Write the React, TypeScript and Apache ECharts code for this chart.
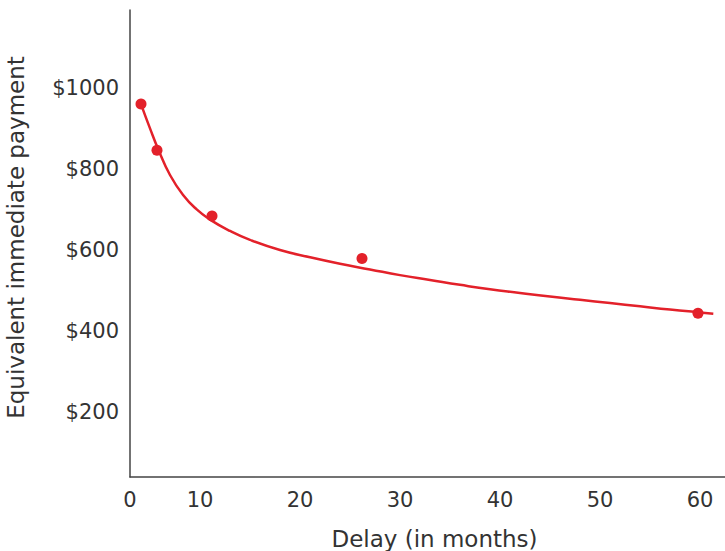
import React, { useEffect, useRef } from "react";
import * as echarts from "echarts";

// Observed data points (delay in months, equivalent immediate payment in $)
const pointDelays = [4.1, 5.7, 11.2, 26.2, 59.8];
const pointValues = [960, 846, 684, 579, 444];

// Fitted curve
const curveDelays = [4.1, 5.0, 5.83, 7.0, 8.33, 9.67, 11.0, 13.0, 15.0, 18.0, 21.0, 24.0, 27.0, 30.0, 33.0, 36.0, 39.0, 42.0, 45.0, 48.0, 51.0, 54.0, 57.0, 60.0, 61.33];
const curveValues = [960, 900, 848, 785, 735, 700, 675, 647, 625, 600, 582, 566, 552, 538, 526, 514, 503, 494, 485, 477, 469, 461, 453, 446, 443];

// Tick labels
const xTickValues = [3, 10, 20, 30, 40, 50, 60];
const xTickLabels = ["0", "10", "20", "30", "40", "50", "60"];
const yTickValues = [200, 400, 600, 800, 1000];

const RED = "#e3212a";
const TEXT = "#333333";
const FONT = "DejaVu Sans";

export default function App() {
  const ref = useRef<HTMLDivElement>(null);
  useEffect(() => {
    document.body.style.margin = "0";
    if (!ref.current) return;
    const chart = echarts.init(ref.current, null, { renderer: "svg" });
    chart.setOption({
      animation: false,
      backgroundColor: "#ffffff",
      grid: { left: 130, top: 10, right: 0, bottom: 74, containLabel: false, outerBoundsMode: "none" },
      xAxis: {
        type: "value",
        min: 3,
        max: 62.5,
        name: "Delay (in months)",
        nameLocation: "middle",
        nameGap: 50,
        nameTextStyle: { fontFamily: FONT, fontSize: 23, color: TEXT, padding: [0, 0, 0, 14] },
        axisLine: { show: true, lineStyle: { color: "#444", width: 1.5 } },
        axisTick: { show: false },
        splitLine: { show: false },
        axisLabel: {
          customValues: xTickValues,
          formatter: (v: number) => xTickLabels[xTickValues.indexOf(v)] ?? String(v),
          fontFamily: FONT,
          fontSize: 21,
          color: TEXT,
          margin: 12,
        },
      },
      yAxis: {
        type: "value",
        min: 40,
        max: 1192,
        name: "Equivalent immediate payment",
        nameLocation: "middle",
        nameGap: 103,
        nameTextStyle: { fontFamily: FONT, fontSize: 23, color: TEXT, padding: [0, 0, 0, 12] },
        axisLine: { show: true, lineStyle: { color: "#444", width: 1.5 } },
        axisTick: { show: false },
        splitLine: { show: false },
        axisLabel: {
          customValues: yTickValues,
          formatter: (v: number) => "$" + v,
          fontFamily: FONT,
          fontSize: 21,
          color: TEXT,
          margin: 11,
        },
      },
      series: [
        {
          type: "line",
          data: curveDelays.map((d, i) => [d, curveValues[i]]),
          smooth: 0.5,
          showSymbol: false,
          lineStyle: { color: RED, width: 2.5 },
          z: 2,
        },
        {
          type: "scatter",
          data: pointDelays.map((d, i) => [d, pointValues[i]]),
          symbol: "circle",
          symbolSize: 11,
          itemStyle: { color: RED, opacity: 1 },
          z: 3,
        },
      ],
    });
    return () => chart.dispose();
  }, []);
  return <div ref={ref} style={{ width: 725, height: 551 }} />;
}
